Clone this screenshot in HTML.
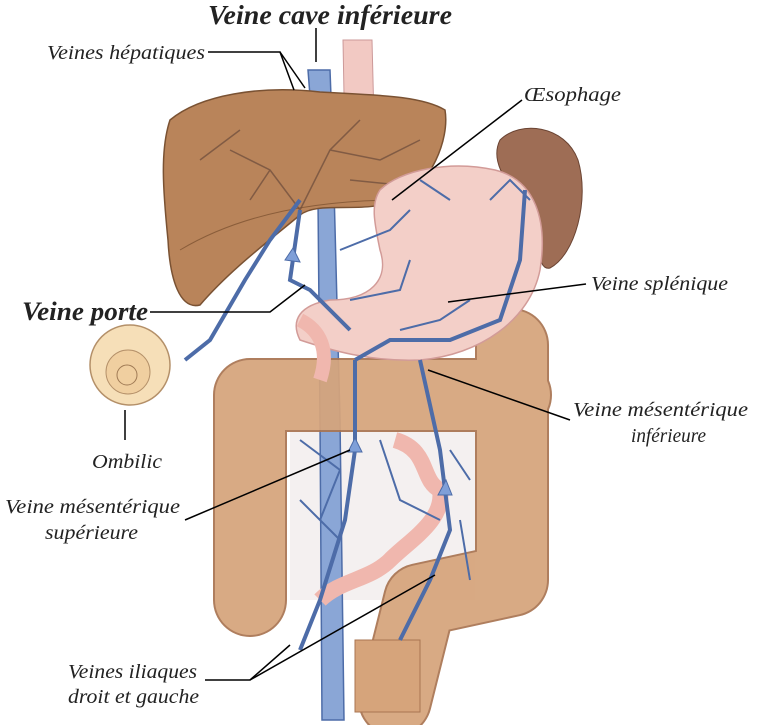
<!DOCTYPE html>
<html><head><meta charset="utf-8"><style>
html,body{margin:0;padding:0;background:#fff;}
svg{display:block;}
text{font-family:"Liberation Serif",serif;font-style:italic;fill:#222;}
</style></head><body>
<svg width="769" height="725" viewBox="0 0 769 725" xmlns="http://www.w3.org/2000/svg">
<!-- esophagus -->
<path d="M343 40 L372 40 L376 200 L346 205 Z" fill="#f2c9c3" stroke="#c99" stroke-width="1"/>
<!-- mesentery area -->
<rect x="290" y="430" width="185" height="170" fill="#f4f0f0"/>
<!-- IVC -->
<path d="M308 70 L330 70 L333 150 L340 420 L344 720 L322 720 L320 420 L318 200 Z" fill="#8aa6d6" stroke="#4d6ca8" stroke-width="1.5"/>
<!-- colon (outline then fill) -->
<g fill="none" stroke-linecap="round" stroke-linejoin="round" opacity="0.93">
<path d="M250 600 L250 395 L515 395 M512 345 L512 580 L420 600 L395 700" stroke="#a97552" stroke-width="74"/>
<path d="M250 600 L250 395 L515 395 M512 345 L512 580 L420 600 L395 700" stroke="#d6a47b" stroke-width="70"/>
</g>
<path d="M355 640 L420 640 L420 712 L355 712 Z" fill="#d6a47b" stroke="#a97552"/>
<!-- spleen -->
<path d="M500 140 C520 120 565 125 578 160 C590 200 575 255 550 268 C535 272 540 230 520 200 C505 180 490 160 500 140 Z" fill="#9e6d55" stroke="#6b4433"/>
<!-- liver -->
<path d="M170 120 C200 95 260 85 320 92 C370 95 420 95 445 110 C450 140 430 185 400 200 C360 215 320 200 300 215 C270 240 230 270 200 305 C180 310 170 280 168 240 C163 190 160 150 170 120 Z" fill="#b9845a" stroke="#7a5233" stroke-width="1.5"/>
<path d="M180 250 C230 220 300 200 400 200" stroke="#8a5d3a" fill="none"/>
<g stroke="#6a4a3a" stroke-width="1.5" fill="none" opacity=".7">
<path d="M300 210 L270 170 L230 150 M270 170 L250 200 M300 210 L330 150 L360 120 M330 150 L380 160 L420 140 M240 130 L200 160 M350 180 L400 185"/>
</g>
<!-- stomach -->
<path d="M380 190 C400 170 450 160 495 170 C535 180 548 220 540 270 C530 320 480 355 420 360 C370 362 330 350 300 340 C290 320 300 305 330 300 C370 300 390 280 380 250 C375 225 370 205 380 190 Z" fill="#f3cfc8" stroke="#d29b98" stroke-width="1.5"/>
<!-- small intestine loops -->
<path d="M395 440 C430 450 420 480 440 490 C445 520 410 540 390 560 C370 580 340 580 320 600" stroke="#f0b7ae" stroke-width="16" fill="none"/>
<path d="M300 320 C320 330 330 350 320 380" stroke="#f0b7ae" stroke-width="14" fill="none"/>
<!-- veins -->
<g stroke="#4d6ca8" stroke-width="4" fill="none">
<path d="M355 360 L355 450 L345 520 L320 600 L300 650"/>
<path d="M420 360 L440 450 L450 530 L430 580 L400 640"/>
<path d="M355 360 L390 340 L450 340 L500 320 L520 260 L525 190"/>
<path d="M300 210 L290 280 L310 290 L350 330"/>
<path d="M300 200 L270 240 L245 280 L210 340 L185 360"/>
</g>
<g stroke="#4d6ca8" stroke-width="2" fill="none">
<path d="M340 250 L390 230 L410 210 M350 300 L400 290 L410 260 M400 330 L440 320 L470 300 M300 440 L340 470 L320 520 M380 440 L400 500 L440 520 M450 450 L470 480 M490 200 L510 180 L530 200 M420 180 L450 200 M300 500 L340 540 M460 520 L470 580"/>
</g>
<g fill="#7f9fd8" stroke="#4d6ca8">
<path d="M285 260 L300 262 L293 248 Z"/><path d="M348 452 L362 452 L355 438 Z"/><path d="M438 495 L452 495 L446 480 Z"/>
</g>
<!-- ombilic -->
<circle cx="130" cy="365" r="40" fill="#f6dfb8" stroke="#b49069" stroke-width="1.5"/>
<circle cx="128" cy="372" r="22" fill="#f0cfa0" stroke="#b49069"/>
<circle cx="127" cy="375" r="10" fill="none" stroke="#a07b55"/>
<!-- leader lines -->
<g stroke="#000" stroke-width="1.5" fill="none">
<line x1="316" y1="28" x2="316" y2="62"/>
<polyline points="208,52 280,52 294,90"/><line x1="280" y1="52" x2="305" y2="88"/>
<line x1="522" y1="100" x2="392" y2="200"/>
<line x1="586" y1="284" x2="448" y2="302"/>
<polyline points="150,312 270,312 305,285"/>
<line x1="570" y1="420" x2="428" y2="370"/>
<line x1="125" y1="440" x2="125" y2="410"/>
<line x1="185" y1="520" x2="350" y2="450"/>
<polyline points="205,680 250,680 290,645"/><line x1="250" y1="680" x2="435" y2="575"/>
</g>
<!-- labels -->
<text x="208" y="24" font-size="27" font-weight="bold" textLength="244" lengthAdjust="spacingAndGlyphs">Veine cave inférieure</text>
<text x="47" y="59" font-size="20" textLength="158" lengthAdjust="spacingAndGlyphs">Veines hépatiques</text>
<text x="524" y="101" font-size="20" textLength="97" lengthAdjust="spacingAndGlyphs">Œsophage</text>
<text x="591" y="290" font-size="20" textLength="137" lengthAdjust="spacingAndGlyphs">Veine splénique</text>
<text x="22" y="320" font-size="26" font-weight="bold" textLength="126" lengthAdjust="spacingAndGlyphs">Veine porte</text>
<text x="573" y="416" font-size="20" textLength="175" lengthAdjust="spacingAndGlyphs">Veine mésentérique</text>
<text x="631" y="442" font-size="20" textLength="75" lengthAdjust="spacingAndGlyphs">inférieure</text>
<text x="92" y="468" font-size="20" textLength="70" lengthAdjust="spacingAndGlyphs">Ombilic</text>
<text x="5" y="513" font-size="20" textLength="175" lengthAdjust="spacingAndGlyphs">Veine mésentérique</text>
<text x="45" y="539" font-size="20" textLength="93" lengthAdjust="spacingAndGlyphs">supérieure</text>
<text x="68" y="678" font-size="20" textLength="129" lengthAdjust="spacingAndGlyphs">Veines iliaques</text>
<text x="68" y="703" font-size="20" textLength="131" lengthAdjust="spacingAndGlyphs">droit et gauche</text>
</svg>
</body></html>
